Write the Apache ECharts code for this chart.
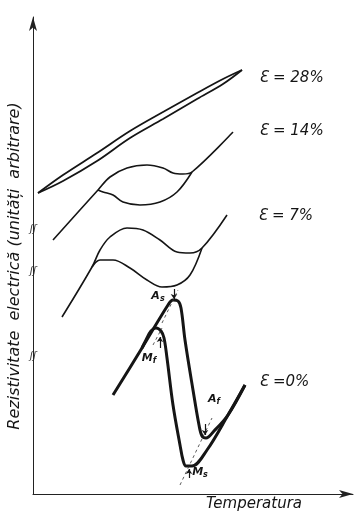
<!DOCTYPE html>
<html>
<head>
<meta charset="utf-8">
<script src="https://cdn.jsdelivr.net/npm/echarts@6/dist/echarts.min.js"></script>
<style>
  html, body { margin: 0; padding: 0; background: #fff; }
  #rezistivitate { width: 361px; height: 512px; }
</style>
</head>
<body>
<div id="rezistivitate"></div>
<script>
// curbe (unitati arbitrare: temperatura, rezistivitate)
var eps28Upper = [[5,301],[30,319],[64,341],[97,363],[130,382],[164,401],[190,415],[209,424]];
var eps28Lower = [[5,301],[30,313],[64,333],[97,356],[130,375],[164,395],[190,410],[209,424]];

var eps14Upper = [[20,254],[65,304],[77,317],[94,326],[114,329],[130,326],[140,321],[150,320],[159,322],[200,362]];
var eps14Lower = [[65,304],[70,302],[80,299],[90,292],[107,289],[127,292],[144,302],[159,322]];

var eps7Upper = [[29,177],[59,227],[67,244],[77,257],[94,266],[110,264],[127,254],[144,242],[157,241],[169,246],[194,279]];
var eps7Lower = [[59,227],[67,234],[80,234],[97,226],[114,214],[129,207],[144,209],[157,219],[169,246]];

// E = 0%: incalzire (As -> Af) si racire (Ms -> Mf)
var eps0Heat = [[80,99],[109,146],[135,189],[140,194],[145,193],[148,186],[152,154],[160,104],[166,69],[169,58],[173,56],[181,63],[195,79],[212,109]];
var eps0Cool = [[212,109],[195,79],[174,44],[159,28],[153,28],[150,34],[147,49],[140,89],[134,136],[131,156],[128,163],[123,166],[118,163],[113,154],[109,146]];

// tangente punctate
var tanAs = [[129,171],[145,204]];
var tanMf = [[120,149],[129,166]];
var tanAfMs = [[147,9],[179,76]];

// sageti pentru punctele de transformare
var arrowAs = [[141,205],[141,195]];
var arrowMf = [[127,146],[127,157]];
var arrowAf = [[172,70],[172,59]];
var arrowMs = [[156,16],[156,25]];

var curveLabels = ['Ɛ = 28%', 'Ɛ = 14%', 'Ɛ = 7%', 'Ɛ =0%'];

var myChart = echarts.init(document.getElementById('rezistivitate'));

function curve(data, width) {
  return {
    type: 'line',
    data: data,
    smooth: 0.35,
    symbol: 'none',
    silent: true,
    lineStyle: { color: '#151515', width: width }
  };
}
function dashed(data) {
  return {
    type: 'line',
    data: data,
    symbol: 'none',
    silent: true,
    lineStyle: { color: '#333', width: 0.8, type: [3, 3] }
  };
}

var font = 'italic 15px "DejaVu Sans"';
function label(text, x, y) {
  return {
    type: 'text', x: x, y: y,
    style: { text: text, font: font, fill: '#151515', align: 'left', verticalAlign: 'middle', textAlign: 'left', textVerticalAlign: 'middle' }
  };
}
function sub(main, low, x, y) {
  return {
    type: 'text', x: x, y: y,
    style: {
      text: main + '{s|' + low + '}',
      font: 'italic bold 11px "DejaVu Sans"',
      fill: '#151515',
      align: 'center', verticalAlign: 'middle', textAlign: 'center', textVerticalAlign: 'middle',
      rich: { s: { font: 'italic bold 8px "DejaVu Sans"', fill: '#151515', padding: [6, 0, 0, 0] } }
    }
  };
}
function breakMark(y) {
  return {
    type: 'text', x: 33, y: y,
    style: { text: 'ʃʃ', font: 'italic 10px "DejaVu Sans"', fill: '#333', align: 'center', verticalAlign: 'middle', textAlign: 'center', textVerticalAlign: 'middle' }
  };
}

var option = {
  backgroundColor: '#fff',
  animation: false,
  grid: { left: 33, top: 17, width: 320, height: 477 },
  xAxis: {
    type: 'value', min: 0, max: 320,
    axisLine: { show: true, symbol: ['none', 'arrow'], symbolSize: [6, 14], lineStyle: { color: '#222', width: 1 } },
    axisTick: { show: false }, axisLabel: { show: false }, splitLine: { show: false }
  },
  yAxis: {
    type: 'value', min: 0, max: 477,
    axisLine: { show: true, symbol: ['none', 'arrow'], symbolSize: [6, 14], lineStyle: { color: '#222', width: 1 } },
    axisTick: { show: false }, axisLabel: { show: false }, splitLine: { show: false }
  },
  series: [
    curve(eps28Upper, 1.8),
    curve(eps28Lower, 1.8),
    curve(eps14Upper, 1.6),
    curve(eps14Lower, 1.6),
    curve(eps7Upper, 1.6),
    curve(eps7Lower, 1.6),
    curve(eps0Heat, 3),
    curve(eps0Cool, 3),
    dashed(tanAs),
    dashed(tanMf),
    dashed(tanAfMs),
    {
      type: 'lines',
      coordinateSystem: 'cartesian2d',
      symbol: ['none', 'arrow'],
      symbolSize: 5,
      silent: true,
      lineStyle: { color: '#151515', width: 1.2, opacity: 1 },
      data: [arrowAs, arrowMf, arrowAf, arrowMs].map(function (c) { return { coords: c }; })
    }
  ],
  graphic: [
    label(curveLabels[0], 259, 78),
    label(curveLabels[1], 259, 131),
    label(curveLabels[2], 258, 216),
    label(curveLabels[3], 259, 382),
    sub('A', 's', 158, 296),
    sub('M', 'f', 149, 358),
    sub('A', 'f', 214, 399),
    sub('M', 's', 200, 472),
    {
      type: 'text', x: 15, y: 266, rotation: Math.PI / 2,
      style: { text: 'Rezistivitate  electrică (unități  arbitrare)', font: 'italic 16px "DejaVu Sans"', fill: '#151515', align: 'center', verticalAlign: 'middle', textAlign: 'center', textVerticalAlign: 'middle' }
    },
    {
      type: 'text', x: 254, y: 504,
      style: { text: 'Temperatura', font: 'italic 15px "DejaVu Sans"', fill: '#151515', align: 'center', verticalAlign: 'middle', textAlign: 'center', textVerticalAlign: 'middle' }
    },
    breakMark(229),
    breakMark(271),
    breakMark(356)
  ]
};

myChart.setOption(option);
</script>
</body>
</html>
